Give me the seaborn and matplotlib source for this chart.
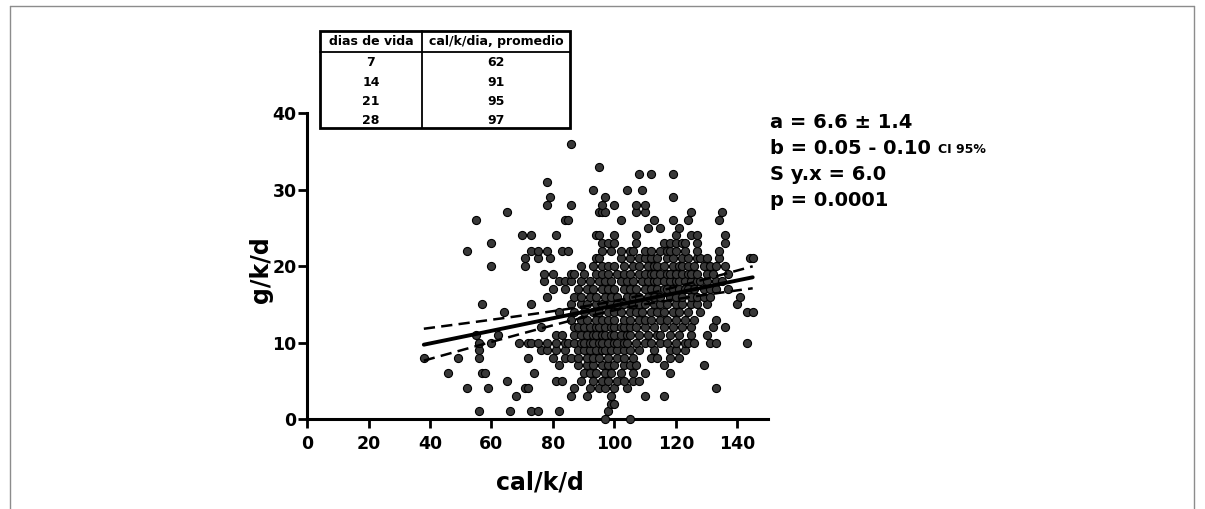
import matplotlib
matplotlib.use("Agg")
import matplotlib.pyplot as plt
from matplotlib.lines import Line2D
from matplotlib.patches import Rectangle
import seaborn as sns
import pandas as pd
import numpy as np

# --- Data: each g/k/d level with the cal/k/d values seen at that level ---
gkd_levels = [0, 1, 2, 3, 4, 5, 6, 7, 8, 9, 10, 11, 12, 13, 14, 15, 16, 17,
              18, 19, 20, 21, 22, 23, 24, 25, 26, 27, 28, 29, 30, 31, 32, 33, 36]
cal_at_level = [
    [97, 105],
    [56, 66, 73, 75, 82, 98],
    [99, 100],
    [68, 86, 91, 99, 110, 116],
    [52, 59, 71, 72, 87, 92, 95, 97, 100, 104, 133],
    [65, 81, 83, 89, 93, 96, 98, 101, 103, 106, 108],
    [46, 57, 58, 74, 90, 92, 94, 97, 99, 102, 106, 110, 118],
    [82, 88, 91, 93, 96, 98, 100, 103, 105, 107, 116, 129],
    [38, 49, 56, 72, 80, 84, 86, 88, 91, 93, 95, 98, 101, 103, 106, 112, 114,
     118, 121],
    [56, 76, 78, 81, 84, 88, 90, 92, 94, 96, 97, 99, 101, 103, 105, 108, 113,
     118, 120, 123],
    [56, 60, 69, 72, 73, 75, 78, 81, 84, 85, 87, 89, 90, 92, 93, 95, 96, 98,
     100, 101, 103, 104, 107, 110, 112, 115, 117, 120, 123, 124, 126, 131,
     133, 143],
    [55, 62, 81, 83, 87, 89, 91, 93, 94, 96, 97, 99, 100, 102, 104, 105, 108,
     111, 114, 115, 118, 121, 125, 130],
    [76, 87, 88, 90, 92, 94, 95, 97, 99, 100, 102, 103, 105, 107, 110, 113,
     116, 119, 122, 125, 132, 136],
    [86, 89, 91, 94, 96, 98, 100, 103, 105, 108, 110, 112, 115, 117, 120, 123,
     126, 133],
    [64, 82, 87, 90, 93, 95, 98, 100, 102, 105, 107, 109, 112, 114, 116, 119,
     121, 124, 128, 143, 145],
    [57, 73, 86, 89, 91, 94, 96, 99, 101, 103, 106, 108, 110, 113, 115, 117,
     120, 122, 125, 127, 130, 140],
    [78, 87, 89, 92, 94, 97, 99, 101, 104, 106, 108, 111, 113, 115, 118, 120,
     122, 125, 127, 129, 131, 141],
    [80, 84, 88, 91, 93, 96, 98, 100, 103, 105, 107, 110, 112, 114, 116, 117,
     119, 121, 123, 124, 126, 129, 131, 133, 137],
    [77, 82, 84, 86, 89, 92, 95, 97, 99, 102, 104, 106, 109, 111, 113, 114,
     116, 118, 120, 121, 123, 125, 127, 128, 130, 133, 135],
    [77, 80, 86, 87, 90, 94, 96, 98, 101, 103, 105, 108, 110, 112, 113, 115,
     117, 118, 120, 122, 124, 125, 127, 130, 132, 137],
    [60, 71, 89, 93, 96, 98, 100, 103, 106, 108, 111, 113, 114, 116, 119, 121,
     122, 124, 126, 129, 131, 133, 136],
    [71, 75, 79, 94, 95, 102, 105, 108, 110, 112, 114, 117, 119, 122, 124,
     127, 128, 130, 134, 144, 145],
    [52, 73, 75, 78, 83, 85, 96, 99, 102, 105, 106, 110, 112, 115, 117, 118,
     120, 123, 127, 134],
    [60, 96, 98, 100, 107, 116, 118, 120, 122, 123, 127, 136],
    [70, 73, 81, 94, 95, 100, 107, 120, 125, 127, 136],
    [111, 115, 121],
    [55, 84, 85, 102, 113, 119, 124, 134],
    [65, 95, 96, 97, 107, 110, 125, 135],
    [78, 86, 96, 100, 107, 110],
    [79, 97, 119],
    [93, 104, 109],
    [78],
    [108, 112, 119],
    [95],
    [86],
]

# inset table
dias_de_vida = [7, 14, 21, 28]
cal_promedio = [62, 91, 95, 97]
table_header = ["dias de vida", "cal/k/dia, promedio"]

# regression summary shown on the right
stat_lines = ["a = 6.6 \u00b1 1.4", "b = 0.05 - 0.10", "S y.x = 6.0", "p = 0.0001"]

df = pd.DataFrame(
    [(c, g) for g, cals in zip(gkd_levels, cal_at_level) for c in cals],
    columns=["cal/k/d", "g/k/d"],
)

# --- linear fit and 95% confidence band ---
x = df["cal/k/d"].to_numpy(float)
y = df["g/k/d"].to_numpy(float)
slope, intercept = np.polyfit(x, y, 1)
n = len(x)
resid = y - (intercept + slope * x)
s_yx = np.sqrt(np.sum(resid ** 2) / (n - 2))
sxx = np.sum((x - x.mean()) ** 2)
xfit = np.linspace(x.min(), x.max(), 100)
yfit = intercept + slope * xfit
half = 1.96 * s_yx * np.sqrt(1 / n + (xfit - x.mean()) ** 2 / sxx)

# --- Plot ---
sns.set_style("ticks")
plt.rcParams["font.family"] = ["DejaVu Sans"]
plt.rcParams["font.weight"] = "bold"
plt.rcParams["text.color"] = "black"
plt.rcParams["axes.labelcolor"] = "black"
plt.rcParams["axes.edgecolor"] = "black"
plt.rcParams["xtick.color"] = "black"
plt.rcParams["ytick.color"] = "black"

fig = plt.figure(figsize=(12.05, 5.09), dpi=100)
ax = fig.add_axes([0.2548, 0.1768, 0.3826, 0.6012])

sns.scatterplot(data=df, x="cal/k/d", y="g/k/d", ax=ax, s=34,
                color="#383838", edgecolor="black", linewidth=0.8,
                zorder=3, clip_on=False)
ax.plot(xfit, yfit, color="black", lw=2.8, zorder=4)
ax.plot(xfit, yfit + half, color="black", lw=1.8, ls=(0, (4.5, 2.5)), zorder=4)
ax.plot(xfit, yfit - half, color="black", lw=1.8, ls=(0, (4.5, 2.5)), zorder=4)

ax.set_xlim(0, 150)
ax.set_ylim(0, 40)
ax.set_xticks(range(0, 141, 20))
ax.set_yticks(range(0, 41, 10))
sns.despine(ax=ax)
for sp in ("left", "bottom"):
    ax.spines[sp].set_linewidth(2.2)
    ax.spines[sp].set_color("black")
ax.tick_params(axis="both", direction="out", length=6.5, width=2,
               labelsize=12.5, colors="black")
ax.tick_params(axis="x", pad=5)
ax.tick_params(axis="y", pad=1)
for lab in ax.get_xticklabels() + ax.get_yticklabels():
    lab.set_fontweight("bold")

ax.set_xlabel("cal/k/d", fontsize=17, fontweight="bold", color="black")
ax.set_ylabel("g/k/d", fontsize=17, fontweight="bold", color="black")
ax.xaxis.set_label_coords(0.505, -0.168)
ax.yaxis.set_label_coords(-0.073, 0.487)

# --- regression text ---
stat_texts = []
for i, line in enumerate(stat_lines):
    t = fig.text(770 / 1205, 1 - (122 + i * 26.3) / 509, line, fontsize=14,
                 fontweight="bold", va="center", ha="left", color="black")
    stat_texts.append(t)
fig.canvas.draw()
ax.annotate("CI 95%", xy=(1, 0), xycoords=stat_texts[1], xytext=(5, 1),
            textcoords="offset points", fontsize=9, fontweight="bold",
            va="bottom", ha="left", annotation_clip=False, color="black")

# --- inset table ---
tx0, tx1 = 320 / 1205, 570 / 1205
ty_top, ty_bot = 1 - 31 / 509, 1 - 128 / 509
fig.add_artist(Rectangle((tx0, ty_bot), tx1 - tx0, ty_top - ty_bot,
                         transform=fig.transFigure, facecolor="white",
                         edgecolor="black", lw=2, zorder=5))
y_head = 1 - 51.7 / 509
x_div = 421.7 / 1205
fig.add_artist(Line2D([tx0, tx1], [y_head, y_head], transform=fig.transFigure,
                      color="black", lw=1.3, zorder=6))
fig.add_artist(Line2D([x_div, x_div], [ty_bot, ty_top], transform=fig.transFigure,
                      color="black", lw=1.3, zorder=6))
col_c = [(tx0 + x_div) / 2, (x_div + tx1) / 2]
for cx, head in zip(col_c, table_header):
    fig.text(cx, 1 - 41.7 / 509, head, fontsize=9, fontweight="bold",
             ha="center", va="center", zorder=7, color="black")
row_y = [62.7, 82.7, 101.7, 120]
for d, c, ry in zip(dias_de_vida, cal_promedio, row_y):
    fig.text(col_c[0], 1 - ry / 509, str(d), fontsize=9, fontweight="bold",
             ha="center", va="center", zorder=7, color="black")
    fig.text(col_c[1], 1 - ry / 509, str(c), fontsize=9, fontweight="bold",
             ha="center", va="center", zorder=7, color="black")

# --- outer frame (top, left, right) ---
fy, fxl, fxr = 1 - 6 / 509, 10 / 1205, 1194 / 1205
fig.add_artist(Line2D([fxl, fxr], [fy, fy], transform=fig.transFigure,
                      color="#8c8c8c", lw=1))
fig.add_artist(Line2D([fxl, fxl], [0, fy], transform=fig.transFigure,
                      color="#8c8c8c", lw=1))
fig.add_artist(Line2D([fxr, fxr], [0, fy], transform=fig.transFigure,
                      color="#8c8c8c", lw=1))

fig.savefig("out.png", dpi=100)
